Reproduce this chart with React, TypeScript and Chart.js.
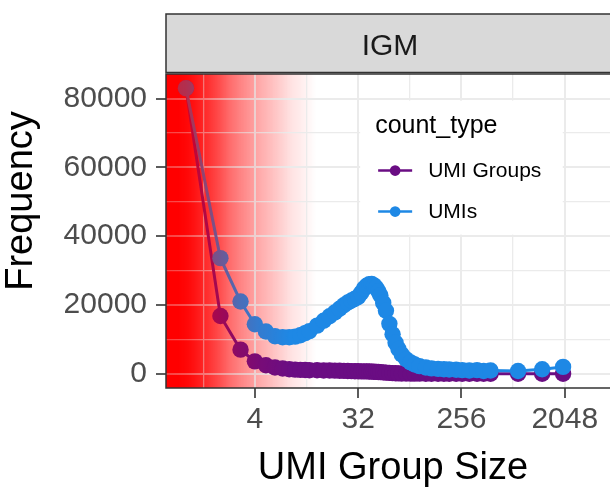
import React, { useEffect, useRef } from "react";
import { Chart, registerables } from "chart.js";

Chart.register(...registerables);

// ---- data ----
const sizes = [
  1, 2, 3, 4, 5, 6, 7, 8, 9, 10, 11, 12,
  14, 16, 18, 20, 22, 24, 26, 28, 30, 32,
  34, 36, 38, 40, 42, 44, 46, 48, 50,
  53, 56, 60, 64, 68, 72, 77, 84, 92, 100,
  110, 125, 140, 160, 180, 200, 230, 260, 300, 350,
  400, 460, 800, 1300, 1980,
];

const umiGroups = [
  83000, 16800, 7000, 3600, 2460, 1820, 1510, 1320, 1200, 1120, 1070, 1030,
  1000, 960, 930, 890, 860, 830, 800, 760, 730, 700,
  690, 690, 675, 650, 620, 585, 545, 500, 455,
  390, 330, 240, 180, 130, 100, 73, 50, 36, 27,
  20, 14, 11, 9, 7, 6, 5, 4, 3, 3,
  2, 2, 1, 1, 1,
];

const umis = [
  83000, 33600, 21000, 14400, 12300, 10900, 10600, 10600, 10800, 11200, 11800, 12400,
  14000, 15400, 16700, 17800, 18900, 19900, 20700, 21300, 21800, 22300,
  23500, 24800, 25600, 26000, 26100, 25700, 25000, 24000, 22800,
  20600, 18300, 14500, 11500, 9000, 7200, 5600, 4200, 3300, 2700,
  2200, 1800, 1550, 1400, 1300, 1250, 1150, 1050, 950, 1050,
  800, 920, 800, 1300, 1980,
];

const seriesNames = ["UMI Groups", "UMIs"];
const xTickValues = [4, 32, 256, 2048];
const xTickLabels = ["4", "32", "256", "2048"];
const yTickValues = [0, 20000, 40000, 60000, 80000];
const yTickLabels = ["0", "20000", "40000", "60000", "80000"];
const facetLabel = "IGM";
const legendTitle = "count_type";
const xTitle = "UMI Group Size";
const yTitle = "Frequency";

// ---- styles ----
const PURPLE = "#6A0D83";
const BLUE = "#1E88E5";
const FONT = "'Liberation Sans', Arial, Helvetica, sans-serif";
const GRID = "#EBEBEB";
const DARK = "#333333";

export default function App() {
  const ref = useRef<HTMLCanvasElement>(null);

  useEffect(() => {
    const canvas = ref.current;
    if (!canvas) return;

    const l2 = (v: number) => Math.log2(v);
    const isMajorX = (v: number) => xTickValues.some((t) => Math.abs(l2(t) - l2(v)) < 1e-6);
    const isMajorY = (v: number) => yTickValues.includes(v);

    // minor x grid: geometric midpoints between major breaks (plus one before/after)
    const minorX: number[] = [];
    const stepX = xTickValues[1] / xTickValues[0];
    minorX.push(Math.sqrt(xTickValues[0] * (xTickValues[0] / stepX)));
    for (let i = 0; i < xTickValues.length - 1; i++) minorX.push(Math.sqrt(xTickValues[i] * xTickValues[i + 1]));
    minorX.push(Math.sqrt(xTickValues[xTickValues.length - 1] * xTickValues[xTickValues.length - 1] * stepX));

    const stepY = yTickValues[1] - yTickValues[0];
    const minorY: number[] = [];
    for (let i = 0; i < yTickValues.length - 1; i++) minorY.push(yTickValues[i] + stepY / 2);

    const XMIN = 2 ** -0.58;
    const XMAX = 2 ** 12.43;

    const decor = {
      id: "decor",
      beforeDraw(chart: any) {
        const { ctx, chartArea: a } = chart;
        const L = a.left;
        const span = 150;
        const g = ctx.createLinearGradient(L, 0, L + span, 0);
        const stops: [number, number][] = [
          [0, 1], [0.08, 1], [0.15, 0.9], [0.24, 0.72], [0.32, 0.58],
          [0.42, 0.42], [0.52, 0.34], [0.61, 0.27], [0.73, 0.19], [0.84, 0.11], [0.93, 0.05], [1, 0],
        ];
        stops.forEach(([p, al]) => g.addColorStop(p, `rgba(255,0,0,${al})`));
        ctx.save();
        ctx.fillStyle = g;
        ctx.fillRect(L, a.top, span, a.bottom - a.top);
        ctx.restore();
      },
      afterDatasetsDraw(chart: any) {
        const { ctx, chartArea: a } = chart;
        const L = a.left;
        const span = 150;
        // translucent red wash over the marks
        const g = ctx.createLinearGradient(L, 0, L + span, 0);
        const stops: [number, number][] = [
          [0, 0.72], [0.13, 0.66], [0.25, 0.5], [0.36, 0.36], [0.49, 0.2], [0.63, 0.09], [0.83, 0], [1, 0],
        ];
        stops.forEach(([p, al]) => g.addColorStop(p, `rgba(255,0,0,${al})`));
        ctx.save();
        ctx.beginPath();
        ctx.rect(a.left, a.top, a.right - a.left, a.bottom - a.top);
        ctx.clip();
        ctx.fillStyle = g;
        ctx.fillRect(L, a.top, span, a.bottom - a.top);
        ctx.restore();

        // legend box
        const xs = chart.scales.x;
        const ys = chart.scales.y;
        const bx0 = xs.getPixelForValue(xTickValues[1]) + 2;
        const bx1 = xs.getPixelForValue(xTickValues[3]) - 2;
        const by0 = ys.getPixelForValue(yTickValues[4]) + 2;
        const by1 = ys.getPixelForValue(yTickValues[2]) - 1.5;
        ctx.save();
        ctx.fillStyle = "#FFFFFF";
        ctx.fillRect(bx0, by0, bx1 - bx0, by1 - by0);
        ctx.fillStyle = "#000000";
        ctx.font = `25px ${FONT}`;
        ctx.textBaseline = "alphabetic";
        ctx.textAlign = "left";
        ctx.fillText(legendTitle, bx0 + 15, by0 + 32);
        const colors = [PURPLE, BLUE];
        seriesNames.forEach((name, i) => {
          const cy = by0 + 70 + i * 41;
          const kx = bx0 + 18;
          ctx.strokeStyle = colors[i];
          ctx.lineWidth = 2.5;
          ctx.beginPath();
          ctx.moveTo(kx, cy);
          ctx.lineTo(kx + 34, cy);
          ctx.stroke();
          ctx.fillStyle = colors[i];
          ctx.beginPath();
          ctx.arc(kx + 17, cy, 5.3, 0, Math.PI * 2);
          ctx.fill();
          ctx.fillStyle = "#000000";
          ctx.font = `21px ${FONT}`;
          ctx.textBaseline = "middle";
          ctx.fillText(name, kx + 50, cy + 0.5);
        });
        ctx.restore();

        // panel border (left, top, bottom; right edge lies outside the picture)
        ctx.save();
        ctx.strokeStyle = DARK;
        ctx.lineWidth = 1.5;
        ctx.beginPath();
        ctx.moveTo(chart.width, a.top);
        ctx.lineTo(a.left, a.top);
        ctx.lineTo(a.left, a.bottom);
        ctx.lineTo(chart.width, a.bottom);
        ctx.stroke();
        ctx.restore();
      },
      afterDraw(chart: any) {
        const { ctx, chartArea: a } = chart;
        ctx.save();
        const sTop = 14;
        const sBot = a.top - 1.5;
        const W = chart.width;
        ctx.fillStyle = "#D9D9D9";
        ctx.fillRect(a.left, sTop, W - a.left, sBot - sTop);
        ctx.strokeStyle = DARK;
        ctx.lineWidth = 1.5;
        ctx.beginPath();
        ctx.moveTo(W, sTop);
        ctx.lineTo(a.left, sTop);
        ctx.lineTo(a.left, sBot);
        ctx.lineTo(W, sBot);
        ctx.stroke();
        ctx.fillStyle = "#1A1A1A";
        ctx.font = `30px ${FONT}`;
        ctx.textAlign = "center";
        ctx.textBaseline = "alphabetic";
        ctx.fillText(facetLabel, (a.left + a.right) / 2, 55);

        // y axis title, centred on strip + panel like ggplot
        ctx.translate(22, (sTop + a.bottom) / 2);
        ctx.rotate(-Math.PI / 2);
        ctx.fillStyle = "#000000";
        ctx.font = `38px ${FONT}`;
        ctx.textAlign = "center";
        ctx.textBaseline = "middle";
        ctx.fillText(yTitle, 0, 0);
        ctx.restore();

        // x axis title
        ctx.save();
        ctx.fillStyle = "#000000";
        ctx.font = `38px ${FONT}`;
        ctx.textAlign = "center";
        ctx.textBaseline = "middle";
        ctx.fillText(xTitle, (a.left + a.right) / 2 + 3, 469);
        ctx.restore();
      },
    };

    const chart = new Chart(canvas, {
      type: "line",
      data: {
        datasets: [
          {
            label: seriesNames[0],
            data: sizes.map((s, i) => ({ x: s, y: umiGroups[i] })),
            borderColor: PURPLE,
            backgroundColor: PURPLE,
            pointBackgroundColor: PURPLE,
            pointBorderWidth: 0,
            pointRadius: 8.2,
            borderWidth: 3,
            tension: 0,
            order: 1,
          },
          {
            label: seriesNames[1],
            data: sizes.map((s, i) => ({ x: s, y: umis[i] })),
            borderColor: BLUE,
            backgroundColor: BLUE,
            pointBackgroundColor: BLUE,
            pointBorderWidth: 0,
            pointRadius: 8.2,
            borderWidth: 3,
            tension: 0,
            order: 0,
          },
        ],
      },
      options: {
        animation: false,
        responsive: false,
        devicePixelRatio: 1,
        layout: { padding: { top: 74, right: 86, left: 0, bottom: 0 } },
        plugins: { legend: { display: false }, tooltip: { enabled: false } },
        scales: {
          x: {
            type: "logarithmic",
            min: XMIN,
            max: XMAX,
            border: { display: false },
            afterBuildTicks: (scale: any) => {
              const all = [...xTickValues, ...minorX].filter((v) => v >= XMIN && v <= XMAX).sort((p, q) => p - q);
              scale.ticks = all.map((v) => ({ value: v, major: false }));
            },
            afterFit: (scale: any) => {
              scale.height = 112;
            },
            grid: {
              color: GRID,
              lineWidth: (c: any) => (c.tick && isMajorX(c.tick.value) ? 2 : 1.3),
              tickColor: (c: any) => (c.tick && isMajorX(c.tick.value) ? DARK : "rgba(0,0,0,0)"),
              tickLength: 10,
              tickWidth: 1.6,
              drawTicks: true,
            },
            ticks: {
              autoSkip: false,
              maxRotation: 0,
              padding: 4,
              color: "#4D4D4D",
              font: { family: FONT, size: 30 },
              callback: (v: any) => {
                const idx = xTickValues.findIndex((t) => Math.abs(l2(t) - l2(Number(v))) < 1e-6);
                return idx >= 0 ? xTickLabels[idx] : "";
              },
            },
            title: { display: false },
          },
          y: {
            type: "linear",
            min: -4150,
            max: 87150,
            border: { display: false },
            afterBuildTicks: (scale: any) => {
              const all = [...yTickValues, ...minorY].sort((p, q) => p - q);
              scale.ticks = all.map((v) => ({ value: v }));
            },
            afterFit: (scale: any) => {
              scale.width = 166;
            },
            grid: {
              color: GRID,
              lineWidth: (c: any) => (c.tick && isMajorY(c.tick.value) ? 2 : 1.3),
              tickColor: (c: any) => (c.tick && isMajorY(c.tick.value) ? DARK : "rgba(0,0,0,0)"),
              tickLength: 10,
              tickWidth: 1.6,
              drawTicks: true,
            },
            ticks: {
              autoSkip: false,
              padding: 9,
              color: "#4D4D4D",
              font: { family: FONT, size: 30 },
              callback: (v: any) => {
                const idx = yTickValues.indexOf(Number(v));
                return idx >= 0 ? yTickLabels[idx] : "";
              },
            },
            title: { display: false },
          },
        },
      },
      plugins: [decor],
    } as any);

    return () => chart.destroy();
  }, []);

  return (
    <div style={{ position: "fixed", left: 0, top: 0, width: 700, height: 500, overflow: "hidden", background: "#FFFFFF" }}>
      <canvas ref={ref} width={700} height={500} style={{ display: "block", width: 700, height: 500 }} />
    </div>
  );
}
